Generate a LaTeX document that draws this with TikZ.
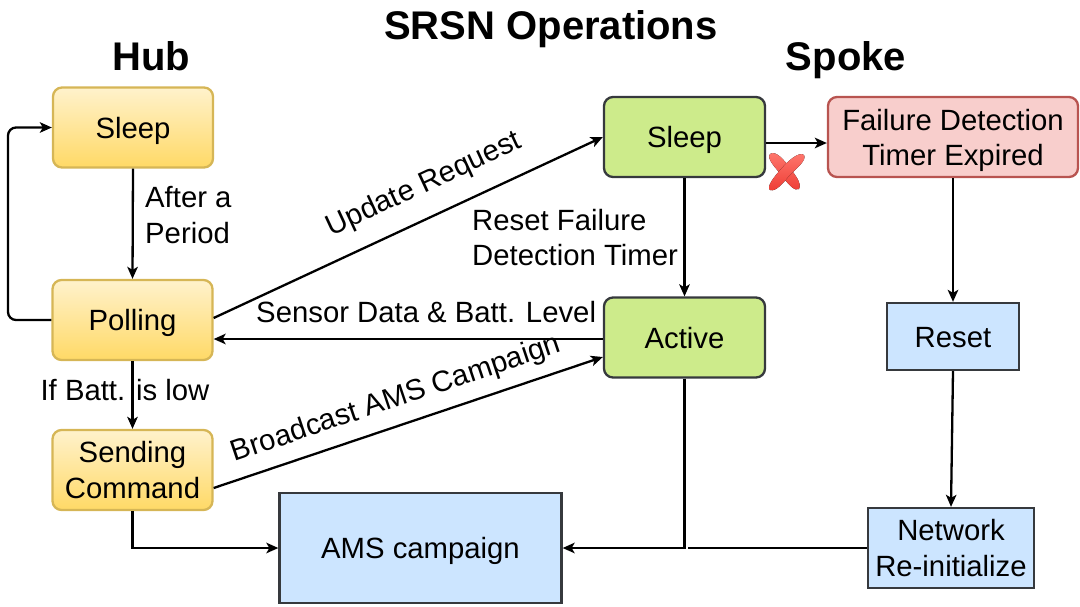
\documentclass[tikz,border=0pt]{standalone}
\usepackage{fontspec}
\setmainfont{Liberation Sans}
\usetikzlibrary{arrows.meta,calc}
\definecolor{hubfillA}{HTML}{FFF2CC}
\definecolor{hubfillB}{HTML}{FFD966}
\definecolor{hubline}{HTML}{D6B656}
\definecolor{greenfill}{HTML}{CDEB8B}
\definecolor{darkline}{HTML}{36393D}
\definecolor{redfill}{HTML}{F8CECC}
\definecolor{redline}{HTML}{B85450}
\definecolor{bluefill}{HTML}{CCE5FF}
\definecolor{xred}{HTML}{EE3B33}
\definecolor{xlight}{HTML}{FF7A70}
\tikzset{
  txt/.style={font=\fontsize{29.3}{35.2}\selectfont, inner sep=0pt},
  boxbase/.style={txt, align=center, line width=2.3pt},
  oneline/.style={text height=21pt, text depth=0pt},
  hubbox/.style={boxbase, draw=hubline, rounded corners=9pt, top color=hubfillA, bottom color=hubfillB, minimum width=160pt, minimum height=80pt},
  greenbox/.style={boxbase, draw=darkline, rounded corners=9pt, fill=greenfill, minimum width=161pt, minimum height=80pt},
  redbox/.style={boxbase, draw=redline, rounded corners=9pt, fill=redfill, minimum width=250pt, minimum height=80pt},
  bluebox/.style={boxbase, draw=darkline, fill=bluefill},
  heading/.style={font=\fontsize{40}{48}\selectfont\bfseries, inner sep=0pt, anchor=base},
  conn/.style={line width=2.3pt, -{Stealth[length=12pt,width=10.5pt,inset=3pt]}},
  plain/.style={line width=2.3pt},
  lbl/.style={txt, inner sep=0pt}
}
\begin{document}
\begin{tikzpicture}[x=1pt,y=-1pt]
\useasboundingbox (0,0) rectangle (1080,606);

% headings
\node[heading] (title) at (551,39) {SRSN Operations};
\node[heading] (hub) at (151,70) {Hub};
\node[heading] (spoke) at (846,70) {Spoke};

% hub nodes
\node[hubbox, oneline] (hsleep) at (133,127.5) {Sleep};
\node[hubbox, oneline] (hpoll) at (132.5,320) {Polling};
\node[hubbox] (hsend) at (132.5,470) {Sending\\Command};

% spoke nodes
\node[greenbox, oneline] (ssleep) at (684.5,137) {Sleep};
\node[redbox] (fail) at (953,137) {\rule{0pt}{28pt}Failure Detection\\Timer Expired};
\node[greenbox, oneline] (active) at (684.5,337.5) {Active};
\node[bluebox, oneline, minimum width=132pt, minimum height=67pt] (reset) at (953,336.5) {Reset};
\node[bluebox, oneline, minimum width=282pt, minimum height=110pt] (ams) at (420.5,548) {AMS campaign};
\node[bluebox, minimum width=166pt, minimum height=80pt] (net) at (951,548) {Network\\Re-initialize};

% hub connectors
\draw[conn] (hsleep.south) -- (hpoll.north);
\node[lbl, align=left, anchor=west] (lafter) at (145,215) {After a\\Period};
\draw[conn, rounded corners=8pt] (hpoll.west) -- (8,320) |- (hsleep.west);
\draw[conn] (hpoll.south) -- (hsend.north);
\node[lbl, anchor=base] (lbatt) at (125,400) {If Batt. is low};

% hub <-> spoke
\draw[conn] ([yshift=2pt]hpoll.east) -- (ssleep.west)
  node[lbl, pos=0.575, sloped, above=17pt] (lupd) {Update Request};
\draw[conn] ([yshift=-1.5pt]active.west) -- ([yshift=-1.5pt]active.west -| hpoll.east)
  node[lbl, pos=0.454, above=15pt] (lsens) {Sensor Data \& Batt. Level};
\draw[conn] ([yshift=-18pt]hsend.east) -- ([yshift=-19.5pt]active.west)
  node[lbl, pos=0.49, sloped, above=11pt] (lbro) {Broadcast AMS Campaign};

% to AMS
\draw[conn] (hsend.south) |- (ams.west);
\draw[conn] (active.south) |- (ams.east);
\coordinate (junc) at (688,548);
\draw[plain] (net.west) -- (junc);

% spoke connectors
\draw[conn] (ssleep.south) -- (active.north);
\node[lbl, align=left, anchor=west] (lreset) at (472,237.5) {Reset Failure\\Detection Timer};
\draw[conn] ([yshift=-6pt]ssleep.east) -- ([yshift=-6pt]fail.west);
\draw[conn] (fail.south) -- (reset.north);
\draw[conn] (reset.south) -- (net.north);

% red X
\fill[top color=xlight, bottom color=xred] (770,154) .. controls (776,150) and (784,160) .. (790,168)
  .. controls (795,175) and (802,183) .. (799,189) .. controls (795,192) and (788,184) .. (782,176)
  .. controls (777,169) and (766,159) .. (770,154) -- cycle;
\fill[top color=xlight, bottom color=xred] (804,155) .. controls (807,160) and (797,168) .. (789,176)
  .. controls (783,183) and (776,192) .. (770,190) .. controls (766,187) and (774,177) .. (781,169)
  .. controls (788,161) and (799,151) .. (804,155) -- cycle;
\end{tikzpicture}
\end{document}
